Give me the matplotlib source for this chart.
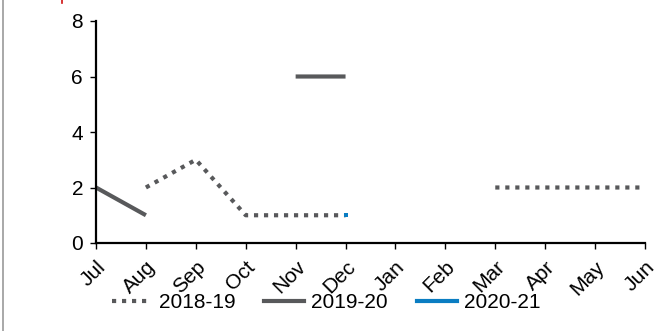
import matplotlib
matplotlib.use('Agg')
import matplotlib.pyplot as plt
from matplotlib.lines import Line2D
import numpy as np

plt.rcParams['font.family'] = ['Liberation Sans', 'DejaVu Sans']

# Monthly counts per financial year
months = ['Jul', 'Aug', 'Sep', 'Oct', 'Nov', 'Dec', 'Jan', 'Feb', 'Mar', 'Apr', 'May', 'Jun']
fy_2018_19 = [np.nan, 2, 3, 1, 1, 1, np.nan, np.nan, 2, 2, 2, 2]
fy_2019_20 = [2, 1, np.nan, np.nan, 6, 6, np.nan, np.nan, np.nan, np.nan, np.nan, np.nan]
fy_2020_21 = [np.nan, np.nan, np.nan, np.nan, np.nan, 1, np.nan, np.nan, np.nan, np.nan, np.nan, np.nan]

grey = '#58595b'
blue = '#0a7dc2'
dots = (0, (1.0, 1.4))
lw = 3.0

fig = plt.figure(figsize=(6.57, 3.31), dpi=100)
ax = fig.add_axes([96 / 657, 1 - 243 / 331, (645 - 96) / 657, (243 - 21) / 331])

x = np.arange(len(months))
ax.plot(x, fy_2018_19, color=grey, lw=lw, ls=dots, solid_capstyle='butt',
        dash_capstyle='butt')
ax.plot(x, fy_2019_20, color=grey, lw=lw, solid_capstyle='butt')
# single-value series shows only as a small square
ax.plot(x, fy_2020_21, color=blue, ls='none', marker='s', ms=3.0, mew=0)

ax.set_xlim(0, len(months) - 1)
ax.set_ylim(0, 8)
ax.set_yticks([0, 2, 4, 6, 8])
ax.set_xticks(x)
ax.set_xticklabels(months, rotation=45, ha='right', va='top', rotation_mode='anchor')
ax.tick_params(axis='both', direction='out', length=4.3, width=1, labelsize=15, pad=5)
ax.tick_params(axis='x', pad=6)

for side in ['top', 'right']:
    ax.spines[side].set_visible(False)
for side in ['left', 'bottom']:
    ax.spines[side].set_linewidth(1.6)

handles = [
    Line2D([], [], color=grey, lw=lw, ls=dots, dash_capstyle='butt'),
    Line2D([], [], color=grey, lw=lw),
    Line2D([], [], color=blue, lw=lw),
]
fig.legend(handles, ['2018-19', '2019-20', '2020-21'], loc='center',
           bbox_to_anchor=(326 / 657, 1 - 303 / 331), ncol=3, frameon=False,
           fontsize=15, handlelength=1.9, columnspacing=1.4, handletextpad=0.35,
           borderpad=0, borderaxespad=0)

# thin border line down the left side and small red mark at the top
fig.add_artist(Line2D([3 / 657, 3 / 657], [0, 1], color='#9a9a9a', lw=1.2))
fig.add_artist(Line2D([62 / 657, 62 / 657], [1, 1 - 3 / 331], color='#d01010', lw=1.2))

fig.savefig('out.png', dpi=100)
